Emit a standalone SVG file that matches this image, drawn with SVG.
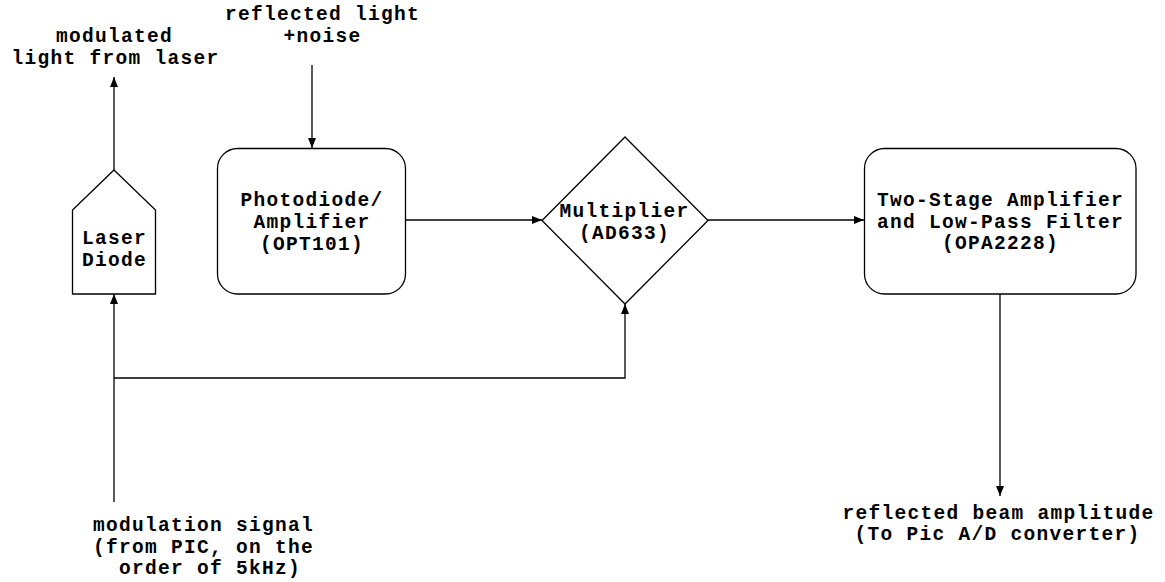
<svg xmlns="http://www.w3.org/2000/svg" width="1165" height="582" viewBox="0 0 1165 582">
<style>
.s{fill:#fff;stroke:#000;stroke-width:1.3}
.c{fill:none;stroke:#000;stroke-width:1.3}
text{font-family:"Liberation Mono","Courier New",monospace;font-weight:bold;font-size:19.5px;letter-spacing:1.3px;fill:#000;text-anchor:middle}
</style>
<defs>
<marker id="a" viewBox="0 0 10 8" refX="10" refY="4" markerWidth="10" markerHeight="8" markerUnits="userSpaceOnUse" orient="auto">
<path d="M0,0 L10,4 L0,8 Z" fill="#000"/>
</marker>
</defs>
<rect width="1165" height="582" fill="#fff"/>
<g id="connectors">
<path class="c" d="M114,170 V77" marker-end="url(#a)"/>
<path class="c" d="M312,65 V148" marker-end="url(#a)"/>
<path class="c" d="M406,220 H542" marker-end="url(#a)"/>
<path class="c" d="M708,220 H864" marker-end="url(#a)"/>
<path class="c" d="M1000,294 V496" marker-end="url(#a)"/>
<path class="c" d="M114,502 V294" marker-end="url(#a)"/>
<path class="c" d="M114,378 H625 V304" marker-end="url(#a)"/>
</g>
<g id="laser">
<path class="s" d="M114,170 L155.5,210 V294 H72.5 V210 Z"/>
<text x="114.6" y="244">Laser</text>
<text x="114.6" y="266">Diode</text>
</g>
<g id="photodiode">
<rect class="s" x="217.5" y="148.5" width="188" height="145.5" rx="20"/>
<text x="312.1" y="206">Photodiode/</text>
<text x="312.1" y="228">Amplifier</text>
<text x="312.1" y="250">(OPT101)</text>
</g>
<g id="multiplier">
<path class="s" d="M625,137 L708,220.5 L625,304 L542,220.5 Z"/>
<text x="624.6" y="217">Multiplier</text>
<text x="624.6" y="239">(AD633)</text>
</g>
<g id="filter">
<rect class="s" x="864.5" y="148.5" width="271.5" height="145.5" rx="20"/>
<text x="1000.6" y="206">Two-Stage Amplifier</text>
<text x="1000.6" y="228">and Low-Pass Filter</text>
<text x="1000.6" y="249">(OPA2228)</text>
</g>
<g id="label-laser-out">
<text x="114.6" y="42">modulated</text>
<text x="115.6" y="64">light from laser</text>
</g>
<g id="label-reflected">
<text x="322.6" y="20">reflected light</text>
<text x="322.6" y="42">+noise</text>
</g>
<g id="label-modulation">
<text x="203.6" y="531" xml:space="preserve">modulation signal</text>
<text x="203.6" y="553" xml:space="preserve">(from PIC, on the</text>
<text x="203.6" y="574" xml:space="preserve"> order of 5kHz)</text>
</g>
<g id="label-output">
<text x="998.6" y="519">reflected beam amplitude</text>
<text x="997.6" y="540">(To Pic A/D converter)</text>
</g>
</svg>
